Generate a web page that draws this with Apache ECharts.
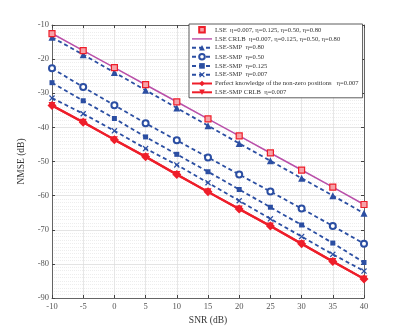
<!DOCTYPE html>
<html><head><meta charset="utf-8">
<script src="https://cdn.jsdelivr.net/npm/echarts@6/dist/echarts.min.js"></script>
<style>html,body{margin:0;padding:0;background:#fff}#c{width:403px;height:336px}</style>
</head><body><div id="c"></div>
<script>
const snr = [-10,-5,0,5,10,15,20,25,30,35,40];
const xTicks = [-10,-5,0,5,10,15,20,25,30,35,40];
const yTicks = [-90,-80,-70,-60,-50,-40,-30,-20,-10];
const lse      = [-12.5,-17.5,-22.5,-27.5,-32.5,-37.5,-42.5,-47.5,-52.5,-57.5,-62.6];
const lseCrlb  = [-12.5,-17.5,-22.5,-27.5,-32.5,-37.5,-42.5,-47.5,-52.5,-57.5,-62.6];
const smp080   = [-13.6,-18.7,-23.9,-29.1,-34.3,-39.5,-44.7,-49.8,-54.9,-60.0,-65.2];
const smp050   = [-22.7,-28.2,-33.5,-38.8,-43.8,-48.8,-53.8,-58.8,-63.8,-68.9,-74.1];
const smp0125  = [-26.9,-32.2,-37.4,-42.8,-47.9,-53.0,-58.2,-63.4,-68.6,-73.9,-79.6];
const smp0007  = [-31.4,-36.0,-41.0,-46.2,-51.0,-56.2,-61.5,-66.8,-72.0,-77.2,-82.1];
const perfect  = [-33.6,-38.5,-43.6,-48.6,-53.8,-58.9,-63.9,-68.9,-74.1,-79.3,-84.4];
const smpCrlb  = [-33.6,-38.5,-43.6,-48.6,-53.8,-58.9,-63.9,-68.9,-74.1,-79.3,-84.4];
const names = [
  'LSE  η=0.007, η=0.125, η=0.50, η=0.80',
  'LSE CRLB  η=0.007, η=0.125, η=0.50, η=0.80',
  'LSE-SMP  η=0.80',
  'LSE-SMP  η=0.50',
  'LSE-SMP  η=0.125',
  'LSE-SMP  η=0.007',
  'Perfect knowledge of the non-zero positions   η=0.007',
  'LSE-SMP CRLB  η=0.007'
];
const pair = a => snr.map((x,i)=>[x,a[i]]);
const blue = '#2B4EA2', red = '#EE1E2A', pink = '#B94FA9';
const xSym = 'path://M0,1.5L1.5,0L5,3.5L8.5,0L10,1.5L6.5,5L10,8.5L8.5,10L5,6.5L1.5,10L0,8.5L3.5,5Z';
const dash = {color:blue,width:1.8,type:[4,3]};
const chart = echarts.init(document.getElementById('c'),null,{renderer:'canvas'});
const font = 'Liberation Serif';
const boxAxis = {axisLine:{show:true,onZero:false,lineStyle:{color:'#444',width:0.8}},
  axisTick:{show:true,inside:true,length:3,lineStyle:{color:'#444'}},
  axisLabel:{show:false},splitLine:{show:false}};
chart.setOption({
  animation:false,
  backgroundColor:'#fff',
  grid:{left:52,right:39,top:25,bottom:38},
  xAxis:[{type:'value',min:-10,max:40,interval:5,
    name:'SNR (dB)',nameLocation:'middle',nameGap:17,
    nameTextStyle:{fontFamily:font,fontSize:9.5,color:'#333'},
    axisLine:{onZero:false,lineStyle:{color:'#444',width:0.8}},
    axisTick:{inside:true,length:3,lineStyle:{color:'#444'}},
    axisLabel:{fontFamily:font,fontSize:8.5,color:'#555',margin:4,
      formatter:v=>xTicks.includes(v)?String(v):''},
    splitLine:{show:true,lineStyle:{color:'#ddd',width:0.7}}},
    Object.assign({type:'value',min:-10,max:40,interval:5,position:'top'},boxAxis)],
  yAxis:[{type:'value',min:-90,max:-10,interval:10,
    name:'NMSE (dB)',nameLocation:'middle',nameGap:20,
    nameTextStyle:{fontFamily:font,fontSize:9.5,color:'#333'},
    axisLine:{onZero:false,lineStyle:{color:'#444',width:0.8}},
    axisTick:{inside:true,length:3,lineStyle:{color:'#444'}},
    axisLabel:{fontFamily:font,fontSize:8.5,color:'#555',margin:3,
      formatter:v=>yTicks.includes(v)?String(v):''},
    splitLine:{show:true,lineStyle:{color:'#d8d8d8',width:0.7}},
    minorTick:{show:false,splitNumber:10},
    minorSplitLine:{show:true,lineStyle:{color:'#e2e2e2',width:0.6,type:[1,1]}}},
    Object.assign({type:'value',min:-90,max:-10,interval:10,position:'right'},boxAxis)],
  legend:{orient:'vertical',left:189,top:24,right:39,
    backgroundColor:'#fff',borderColor:'#333',borderWidth:0.8,
    padding:[2,4,2,2],itemGap:1.8,itemWidth:20,itemHeight:7,
    textStyle:{fontFamily:font,fontSize:6.6,color:'#333',padding:[0,0,0,-2]},
    data:names.map((n,i)=>i===1?{name:n,icon:'path://M0,4.3L20,4.3L20,5.7L0,5.7Z'}:n)},
  series:[
    {name:names[0],type:'line',data:pair(lse),symbol:'rect',symbolSize:6,
      lineStyle:{width:0,opacity:0},itemStyle:{color:'#F6A2A8',borderColor:red,borderWidth:1.2},z:5},
    {name:names[1],type:'line',data:pair(lseCrlb),symbol:'none',
      lineStyle:{color:pink,width:1.5},itemStyle:{color:pink},z:4},
    {name:names[2],type:'line',data:pair(smp080),symbol:'triangle',symbolSize:7,
      lineStyle:dash,itemStyle:{color:blue}},
    {name:names[3],type:'line',data:pair(smp050),symbol:'emptyCircle',symbolSize:6,
      lineStyle:dash,itemStyle:{color:blue,borderWidth:1.6}},
    {name:names[4],type:'line',data:pair(smp0125),symbol:'rect',symbolSize:5,
      lineStyle:dash,itemStyle:{color:blue}},
    {name:names[5],type:'line',data:pair(smp0007),symbol:xSym,symbolSize:6,
      lineStyle:dash,itemStyle:{color:blue}},
    {name:names[6],type:'line',data:pair(perfect),symbol:'diamond',symbolSize:9,
      lineStyle:{color:red,width:2.2},itemStyle:{color:red}},
    {name:names[7],type:'line',data:pair(smpCrlb),symbol:'triangle',symbolRotate:180,symbolSize:7,
      lineStyle:{color:red,width:2.2},itemStyle:{color:red}}
  ]
});
</script></body></html>
